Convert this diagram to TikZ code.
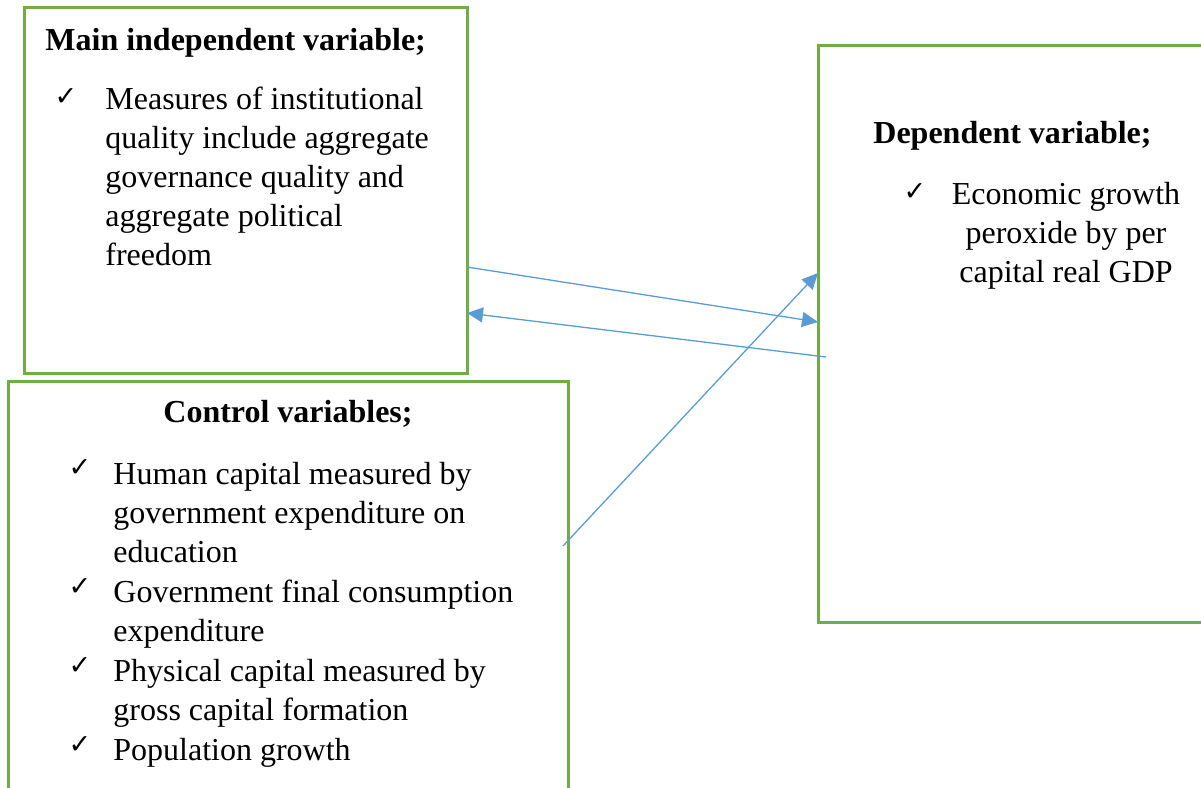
\documentclass[tikz,border=0pt]{standalone}
\usepackage{fontspec}
\setmainfont{Liberation Serif}
\newfontfamily\tickfont{DejaVu Sans}
\usetikzlibrary{arrows.meta}
\definecolor{boxgreen}{HTML}{70AD47}
\definecolor{arrowblue}{HTML}{5B9BD5}
\newcommand{\bodysize}{\fontsize{16}{19.5}\selectfont}
\tikzset{box/.style  = {rectangle, draw=boxgreen, line width=1.5pt, inner sep=0pt, outer sep=0pt},
	head/.style = {font=\bodysize\bfseries, anchor=base west, inner sep=0pt},
	item/.style = {font=\bodysize, align=left, anchor=base west, inner sep=0pt},
	tick/.style = {font=\tickfont\fontsize{13.5}{14}\selectfont, inner sep=0pt},
	link/.style = {draw=arrowblue, line width=0.65pt, -{Triangle[length=8pt,width=7.5pt]}}
}

\begin{document}
\begin{tikzpicture}[x=0.5pt, y=-0.5pt]
		\clip (0,0) rectangle (1201,788);
		%% the three boxes
		\node [box, minimum width=221.5pt, minimum height=183pt] (main) at (245.5,190) {};
		\node [box, minimum width=280pt, minimum height=210pt] (ctrl) at (288,591) {};
		\node [box, minimum width=198.5pt, minimum height=288.5pt] (dep) at (1016.5,333.5) {};
		%% main independent variable (items sit on the baseline of their last line)
		\node [head] (mainhd) at (45,50) {Main independent variable;};
		\node [tick] (mtick) at (66,97) {✓};
		\node [item] (mtxt) at (105,265) {Measures of institutional\\quality include aggregate\\governance quality and\\aggregate political\\freedom};
		%% dependent variable
		\node [head] (dephd) at (873,143) {Dependent variable;};
		\node [tick] (dtick) at (915,192) {✓};
		\node [item, align=center, anchor=base] (dtxt) at (1066,282) {Economic growth\\peroxide by per\\capital real GDP};
		%% control variables
		\node [head, anchor=base] (ctrlhd) at (288,422) {Control variables;};
		\node [tick] (ctick1) at (80,468) {✓};
		\node [item] (ctxt1) at (113,562) {Human capital measured by\\government expenditure on\\education};
		\node [tick] (ctick2) at (80,587) {✓};
		\node [item] (ctxt2) at (113,641) {Government final consumption\\expenditure};
		\node [tick] (ctick3) at (80,666) {✓};
		\node [item] (ctxt3) at (113,720) {Physical capital measured by\\gross capital formation};
		\node [tick] (ctick4) at (80,745) {✓};
		\node [item] (ctxt4) at (113,760) {Population growth};
		%% arrows between the boxes
		\coordinate (m1) at (main.east |- 0,267);
		\coordinate (m2) at (main.east |- 0,313);
		\coordinate (d1) at (dep.west |- 0,322);
		\coordinate (d2) at ([xshift=4pt]dep.west |- 0,357);
		\coordinate (d3) at (dep.west |- 0,273);
		\coordinate (c1) at ([xshift=-2.5pt]ctrl.east |- 0,546);
		\path [link] (m1) -- (d1);
		\path [link] (d2) -- (m2);
		\path [link] (c1) -- (d3);
	\end{tikzpicture}
\end{document}
